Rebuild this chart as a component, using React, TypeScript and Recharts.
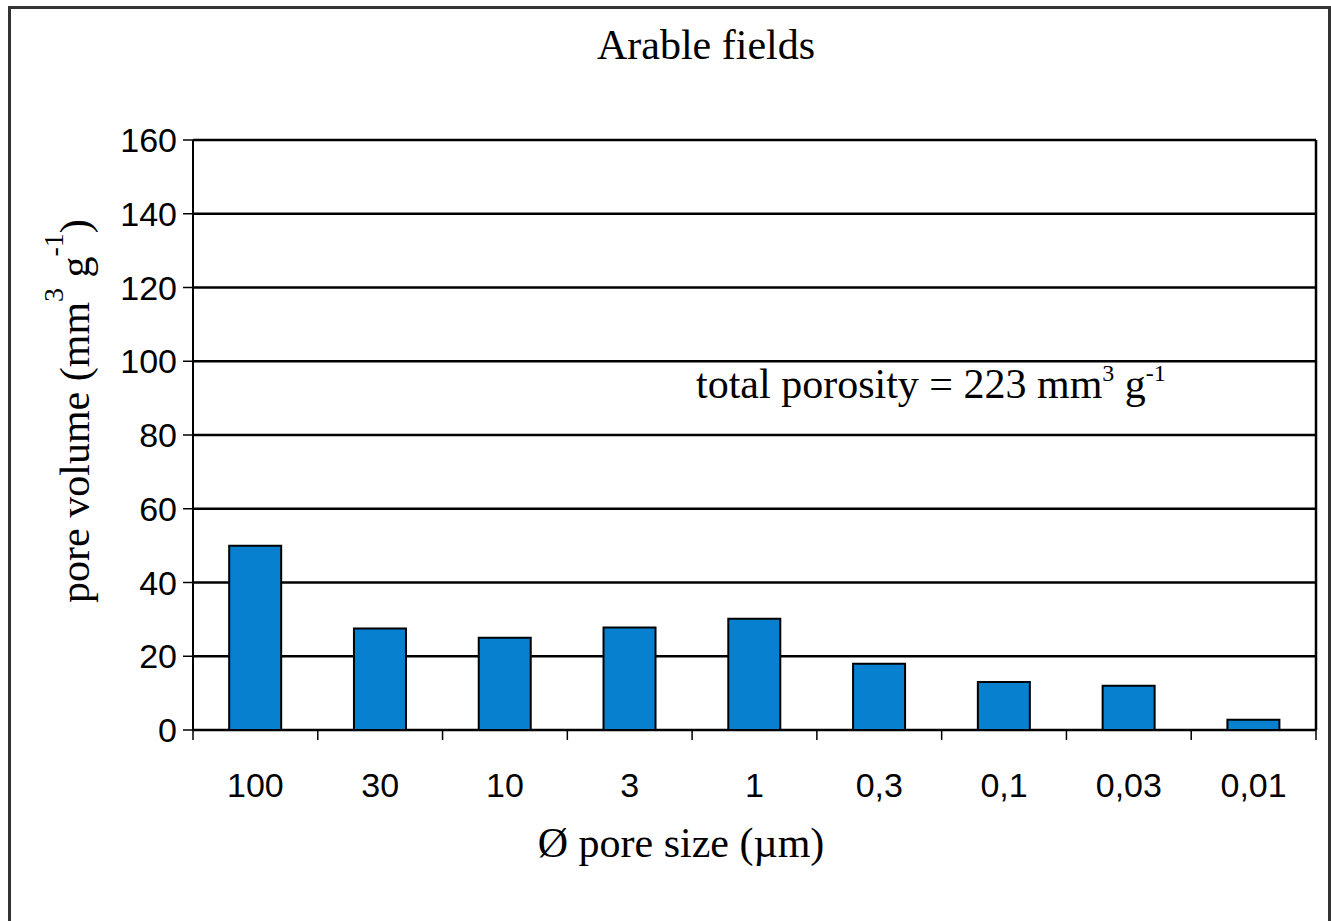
import React from 'react';
import { BarChart, Bar, XAxis, YAxis, CartesianGrid } from 'recharts';

const categories = ['100', '30', '10', '3', '1', '0,3', '0,1', '0,03', '0,01'];
const poreVolume = [50, 27.5, 25, 27.8, 30.2, 18, 13, 12, 2.8];
const yTicks = [0, 20, 40, 60, 80, 100, 120, 140, 160];

const data = categories.map((size, i) => ({ size, volume: poreVolume[i] }));

const W = 1331;
const H = 921;
const MARGIN = { top: 140, right: 15, bottom: 131, left: 0 };
const Y_AXIS_W = 193;
const X_AXIS_H = 60;
const BAND = (W - MARGIN.left - MARGIN.right - Y_AXIS_W) / categories.length;

const SERIF = '"Liberation Serif", "Times New Roman", Times, serif';
const SANS = '"Liberation Sans", Arial, Helvetica, sans-serif';

// excel style: tick marks sit between the categories, labels in the middle
const XTick = (props: any) => {
  const { x, y, payload, index } = props;
  const last = index === categories.length - 1;
  return (
    <g>
      <line x1={x - BAND / 2} x2={x - BAND / 2} y1={y} y2={y + 10} stroke="#000" strokeWidth={1.5} />
      {last && <line x1={x + BAND / 2} x2={x + BAND / 2} y1={y} y2={y + 10} stroke="#000" strokeWidth={1.5} />}
      <text x={x} y={y + 67} textAnchor="middle" fontFamily={SANS} fontSize={34} fill="#000">
        {payload.value}
      </text>
    </g>
  );
};

export default function App() {
  return (
    <div style={{ position: 'absolute', left: 0, top: 0, width: W, height: H, background: '#fff' }}>
      <div
        style={{
          position: 'absolute',
          left: 8,
          top: 6,
          width: W - 8 - 6,
          height: H - 6,
          borderLeft: '3px solid #333',
          borderTop: '3px solid #333',
          borderRight: '3px solid #333'
        }}
      />
      <BarChart width={W} height={H} data={data} margin={MARGIN} barCategoryGap="29%">
        <CartesianGrid
          stroke="#000"
          strokeWidth={2.5}
          horizontalValues={yTicks}
          verticalCoordinatesGenerator={({ offset }: any) => [offset.left + offset.width]}
        />
        <XAxis
          dataKey="size"
          height={X_AXIS_H}
          axisLine={{ stroke: '#000', strokeWidth: 2 }}
          tickLine={false}
          tickSize={0}
          tickMargin={0}
          interval={0}
          tick={<XTick />}
        />
        <YAxis
          width={Y_AXIS_W}
          domain={[0, 160]}
          ticks={yTicks}
          interval={0}
          axisLine={{ stroke: '#000', strokeWidth: 2 }}
          tickLine={{ stroke: '#000', strokeWidth: 1.5 }}
          tickSize={10}
          tickMargin={6}
          tick={{ fill: '#000', fontSize: 34, fontFamily: SANS }}
        />
        <Bar dataKey="volume" fill="#0780d0" stroke="#000" strokeWidth={2} isAnimationActive={false} />

        <text x={706} y={59} textAnchor="middle" fontFamily={SERIF} fontSize={42} fill="#000">
          Arable fields
        </text>
        <text x={681} y={857} textAnchor="middle" fontFamily={SERIF} fontSize={42} fill="#000">
          Ø pore size (µm)
        </text>
        <text x={696} y={398} fontFamily={SERIF} fontSize={42} fill="#000">
          total porosity = 223 mm
          <tspan fontSize={24} dy={-17}>3</tspan>
          <tspan dy={17}> g</tspan>
          <tspan fontSize={24} dy={-17}>-1</tspan>
        </text>
        <text
          x={89}
          y={411}
          transform="rotate(-90 89 411)"
          textAnchor="middle"
          fontFamily={SERIF}
          fontSize={42}
          fill="#000"
        >
          pore volume (mm
          <tspan fontSize={28} dy={-26}>3</tspan>
          <tspan dy={26}> g</tspan>
          <tspan fontSize={28} dy={-26}>-1</tspan>
          <tspan dy={26}>)</tspan>
        </text>
      </BarChart>
    </div>
  );
}
